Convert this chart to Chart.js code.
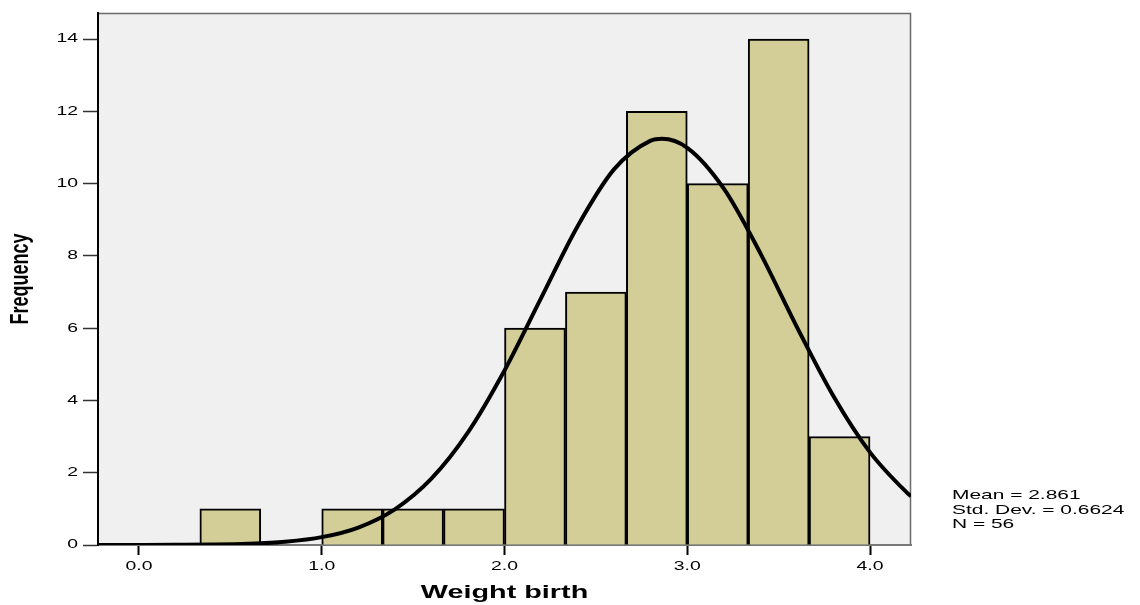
<!DOCTYPE html>
<html>
<head>
<meta charset="utf-8">
<script src="https://cdn.jsdelivr.net/npm/chart.js@4/dist/chart.umd.min.js"></script>
<style>
html,body{margin:0;padding:0;background:#fff;}
#wrap{width:1140px;height:605px;position:relative;}
</style>
</head>
<body>
<div id="wrap"><canvas id="c" width="1140" height="605"></canvas></div>
<script>
// Histogram bins (bin width 1/3), bin centers and frequencies
const binCenters = [0.1667, 0.5, 0.8333, 1.1667, 1.5, 1.8333, 2.1667, 2.5, 2.8333, 3.1667, 3.5, 3.8333];
const frequencies = [0, 1, 0, 1, 1, 1, 6, 7, 12, 10, 14, 3];
// Normal curve
const curveX = [-0.224, 0.0, 0.2, 0.4, 0.6, 0.8, 1.0, 1.2, 1.4, 1.6, 1.8, 2.0, 2.2, 2.4, 2.6, 2.8, 2.861, 3.0, 3.2, 3.4, 3.6, 3.8, 4.0, 4.2, 4.224];
const curveY = [0.0, 0.001, 0.004, 0.011, 0.033, 0.089, 0.217, 0.484, 0.988, 1.836, 3.116, 4.829, 6.832, 8.822, 10.40, 11.19, 11.24, 10.99, 9.86, 8.07, 6.03, 4.115, 2.563, 1.457, 1.35];
const xTicks = [0, 1, 2, 3, 4];
const yTicks = [0, 2, 4, 6, 8, 10, 12, 14];
const statsLines = ['Mean = 2.861', 'Std. Dev. = 0.6624', 'N = 56'];

const FONT = '"Liberation Sans", Arial, sans-serif';
const TEXT_STRETCH = 1.55;   // horizontal text stretch seen in the reference
const BOLD_STRETCH = 1.6;
const ROTATED_STRETCH = 1.45;

const wideText = {
  id: 'wideText',
  beforeDraw(chart) {
    const ctx = chart.ctx;
    if (ctx.__wide) return;
    ctx.__wide = true;
    const orig = CanvasRenderingContext2D.prototype.fillText;
    ctx.fillText = function (t, x, y) {
      const m = this.getTransform();
      this.save();
      this.translate(x, y);
      if (Math.abs(m.b) > 1e-6 || Math.abs(m.c) > 1e-6) {
        this.scale(1, ROTATED_STRETCH);
      } else {
        this.scale(/bold/.test(this.font) ? BOLD_STRETCH : TEXT_STRETCH, 1);
      }
      orig.call(this, t, 0, 0);
      this.restore();
    };
  }
};

const plotBg = {
  id: 'plotBg',
  beforeDraw(chart) {
    const {ctx, chartArea: a} = chart;
    ctx.save();
    ctx.fillStyle = '#F0F0F0';
    ctx.fillRect(a.left, a.top, a.right - a.left, a.bottom - a.top);
    ctx.strokeStyle = '#6a6a6a';
    ctx.lineWidth = 1.5;
    ctx.beginPath();
    ctx.moveTo(a.left, a.top + 0.5);
    ctx.lineTo(a.right - 0.5, a.top + 0.5);
    ctx.lineTo(a.right - 0.5, a.bottom);
    ctx.stroke();
    ctx.restore();
  },
  afterDraw(chart) {
    const {ctx, chartArea: a} = chart;
    ctx.save();
    ctx.fillStyle = '#000';
    ctx.font = '13.5px ' + FONT;
    ctx.textBaseline = 'alphabetic';
    ctx.textAlign = 'left';
    statsLines.forEach((t, i) => ctx.fillText(t, a.right + 41, 499 + i * 14.5));
    ctx.restore();
  }
};

new Chart(document.getElementById('c'), {
  type: 'bar',
  data: {
    datasets: [
      {
        type: 'line',
        data: curveX.map((x, i) => ({x: x, y: curveY[i]})),
        borderColor: '#000',
        borderWidth: 4,
        pointRadius: 0,
        fill: false,
        cubicInterpolationMode: 'monotone',
        order: 0
      },
      {
        type: 'bar',
        data: binCenters.map((x, i) => ({x: x, y: frequencies[i] > 0 ? frequencies[i] : null})),
        backgroundColor: '#D3CE98',
        borderColor: '#000',
        borderWidth: 2,
        barPercentage: 1,
        categoryPercentage: 1,
        order: 1
      }
    ]
  },
  options: {
    responsive: false,
    animation: false,
    layout: {padding: {left: 0, right: 229, top: 13, bottom: 0}},
    plugins: {legend: {display: false}, tooltip: {enabled: false}},
    scales: {
      x: {
        type: 'linear',
        min: -0.224,
        max: 4.224,
        offset: false,
        afterBuildTicks: s => { s.ticks = xTicks.map(v => ({value: v})); },
        afterFit: s => { s.height = 60; },
        ticks: {
          callback: v => Number(v).toFixed(1),
          color: '#000',
          font: {family: FONT, size: 12.5},
          padding: 4,
          maxRotation: 0,
          autoSkip: false
        },
        grid: {offset: false, drawOnChartArea: false, drawTicks: true, tickLength: 10, tickColor: '#000', tickWidth: 2},
        border: {display: true, color: '#777', width: 2},
        title: {
          display: true,
          text: 'Weight birth',
          color: '#000',
          font: {family: FONT, size: 18, weight: 'bold'},
          padding: {top: 0, bottom: 1}
        }
      },
      y: {
        type: 'linear',
        min: 0,
        max: 14.72,
        afterBuildTicks: s => { s.ticks = yTicks.map(v => ({value: v})); },
        afterFit: s => { s.width = 98; },
        ticks: {
          color: '#000',
          font: {family: FONT, size: 12.5},
          padding: 5
        },
        grid: {drawOnChartArea: false, drawTicks: true, tickLength: 15, tickColor: '#333', tickWidth: 1.5},
        border: {display: true, color: '#000', width: 2},
        title: {
          display: true,
          text: 'Frequency',
          color: '#000',
          font: {family: FONT, size: 18, weight: 'bold'},
          padding: {top: 10, bottom: 0}
        }
      }
    }
  },
  plugins: [wideText, plotBg]
});
</script>
</body>
</html>
